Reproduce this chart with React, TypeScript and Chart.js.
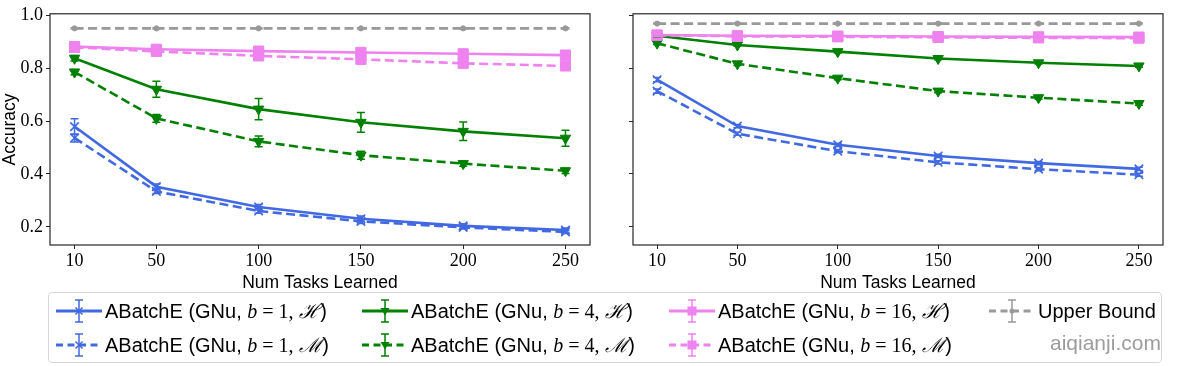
import React, { useEffect, useRef } from "react";
import { Chart, registerables } from "chart.js";
Chart.register(...registerables);

// ---------- data ----------
const xTicks = [10, 50, 100, 150, 200, 250];
const yTicks = [0.2, 0.4, 0.6, 0.8, 1.0];

// left panel
const blueH_L = [0.579, 0.352, 0.275, 0.231, 0.204, 0.188];
const blueH_L_err = [0.03, 0.01, 0.01, 0.01, 0.008, 0.008];
const blueM_L = [0.536, 0.334, 0.26, 0.221, 0.198, 0.181];
const blueM_L_err = [0.015, 0.008, 0.008, 0.008, 0.006, 0.006];
const greenH_L = [0.837, 0.72, 0.645, 0.595, 0.561, 0.535];
const greenH_L_err = [0.01, 0.03, 0.04, 0.037, 0.035, 0.03];
const greenM_L = [0.785, 0.61, 0.523, 0.471, 0.439, 0.412];
const greenM_L_err = [0.01, 0.015, 0.02, 0.015, 0.01, 0.01];
const pinkH_L = [0.881, 0.871, 0.864, 0.859, 0.854, 0.849];
const pinkH_L_err = [0.006, 0.008, 0.01, 0.01, 0.01, 0.008];
const pinkM_L = [0.878, 0.863, 0.846, 0.833, 0.818, 0.808];
const pinkM_L_err = [0.006, 0.008, 0.01, 0.01, 0.01, 0.008];
const upper_L = [0.95, 0.95, 0.95, 0.95, 0.95, 0.95];
const upper_L_err = [0.002, 0.002, 0.002, 0.002, 0.002, 0.002];

// right panel
const blueH_R = [0.756, 0.581, 0.51, 0.468, 0.441, 0.419];
const blueH_R_err = [0.008, 0.006, 0.006, 0.006, 0.006, 0.006];
const blueM_R = [0.713, 0.552, 0.486, 0.444, 0.418, 0.397];
const blueM_R_err = [0.008, 0.006, 0.006, 0.006, 0.006, 0.006];
const greenH_R = [0.922, 0.887, 0.862, 0.836, 0.82, 0.808];
const greenH_R_err = [0.004, 0.005, 0.005, 0.005, 0.005, 0.005];
const greenM_R = [0.894, 0.816, 0.762, 0.713, 0.688, 0.666];
const greenM_R_err = [0.005, 0.006, 0.006, 0.006, 0.006, 0.006];
const pinkH_R = [0.925, 0.922, 0.921, 0.919, 0.918, 0.917];
const pinkH_R_err = [0.004, 0.004, 0.004, 0.004, 0.004, 0.004];
const pinkM_R = [0.924, 0.92, 0.918, 0.916, 0.914, 0.913];
const pinkM_R_err = [0.004, 0.004, 0.004, 0.004, 0.004, 0.004];
const upper_R = [0.968, 0.968, 0.968, 0.968, 0.968, 0.968];
const upper_R_err = [0.002, 0.002, 0.002, 0.002, 0.002, 0.002];

const legendB = ["1", "4", "16"];
const legendSets = ["ℋ", "ℳ"];

// ---------- styles ----------
const BLUE = "#4169E1";
const GREEN = "#008000";
const PINK = "#EE82EE";
const GRAY = "#999999";
const SERIF = "Liberation Serif, DejaVu Serif, serif";
const SANS = "Liberation Sans, DejaVu Sans, sans-serif";

type Marker = "x" | "v" | "s" | "o";
type Series = { color: string; dashed: boolean; marker: Marker; values: number[]; errs: number[] };

const leftSeries: Series[] = [
  { color: BLUE, dashed: false, marker: "x", values: blueH_L, errs: blueH_L_err },
  { color: BLUE, dashed: true, marker: "x", values: blueM_L, errs: blueM_L_err },
  { color: GREEN, dashed: false, marker: "v", values: greenH_L, errs: greenH_L_err },
  { color: GREEN, dashed: true, marker: "v", values: greenM_L, errs: greenM_L_err },
  { color: PINK, dashed: false, marker: "s", values: pinkH_L, errs: pinkH_L_err },
  { color: PINK, dashed: true, marker: "s", values: pinkM_L, errs: pinkM_L_err },
  { color: GRAY, dashed: true, marker: "o", values: upper_L, errs: upper_L_err },
];
const rightSeries: Series[] = [
  { color: BLUE, dashed: false, marker: "x", values: blueH_R, errs: blueH_R_err },
  { color: BLUE, dashed: true, marker: "x", values: blueM_R, errs: blueM_R_err },
  { color: GREEN, dashed: false, marker: "v", values: greenH_R, errs: greenH_R_err },
  { color: GREEN, dashed: true, marker: "v", values: greenM_R, errs: greenM_R_err },
  { color: PINK, dashed: false, marker: "s", values: pinkH_R, errs: pinkH_R_err },
  { color: PINK, dashed: true, marker: "s", values: pinkM_R, errs: pinkM_R_err },
  { color: GRAY, dashed: true, marker: "o", values: upper_R, errs: upper_R_err },
];

function markerProps(m: Marker, color: string) {
  switch (m) {
    case "x":
      return { pointStyle: "crossRot", pointRadius: 6, pointBorderWidth: 1.6, pointBorderColor: color, pointBackgroundColor: color, pointRotation: 0 };
    case "v":
      return { pointStyle: "triangle", pointRadius: 6, pointBorderWidth: 1, pointBorderColor: color, pointBackgroundColor: color, pointRotation: 180 };
    case "s":
      return { pointStyle: "rect", pointRadius: 7.2, pointBorderWidth: 1, pointBorderColor: color, pointBackgroundColor: color, pointRotation: 0 };
    default:
      return { pointStyle: "circle", pointRadius: 2.6, pointBorderWidth: 1, pointBorderColor: color, pointBackgroundColor: color, pointRotation: 0 };
  }
}

const errorBarPlugin = {
  id: "errbars",
  afterDatasetsDraw(chart: any) {
    const ctx = chart.ctx;
    const ys = chart.scales.y;
    const n = chart.data.datasets.length;
    for (let i = 0; i < n; i++) {
      const ds: any = chart.data.datasets[i];
      if (!ds.errs) continue;
      const meta = chart.getDatasetMeta(i);
      ctx.save();
      ctx.strokeStyle = ds.borderColor;
      ctx.lineWidth = 1.5;
      ctx.setLineDash([]);
      meta.data.forEach((pt: any, j: number) => {
        const v = ds.data[j].y;
        const e = ds.errs[j];
        const y1 = ys.getPixelForValue(v - e);
        const y2 = ys.getPixelForValue(v + e);
        const x = pt.x;
        ctx.beginPath();
        ctx.moveTo(x, y1);
        ctx.lineTo(x, y2);
        ctx.moveTo(x - 4, y1);
        ctx.lineTo(x + 4, y1);
        ctx.moveTo(x - 4, y2);
        ctx.lineTo(x + 4, y2);
        ctx.stroke();
      });
      ctx.restore();
    }
  },
};

const framePlugin = {
  id: "frame",
  afterDraw(chart: any) {
    const { left, right, top, bottom } = chart.chartArea;
    const ctx = chart.ctx;
    ctx.save();
    ctx.strokeStyle = "#262626";
    ctx.lineWidth = 1.2;
    ctx.strokeRect(left, top, right - left, bottom - top);
    ctx.restore();
  },
};

function makeConfig(series: Series[], showY: boolean, yWidth: number, padRight: number): any {
  const datasets = series.map((s, i) => ({
    data: xTicks.map((x, j) => ({ x, y: s.values[j] })),
    errs: s.errs,
    borderColor: s.color,
    backgroundColor: s.color,
    borderWidth: 2.6,
    borderDash: s.dashed ? [9, 4.5] : [],
    tension: 0,
    fill: false,
    order: series.length - i,
    ...markerProps(s.marker, s.color),
  }));
  return {
    type: "line",
    data: { datasets },
    plugins: [errorBarPlugin, framePlugin],
    options: {
      animation: false,
      responsive: false,
      layout: { padding: { top: 11, right: padRight, left: 0, bottom: 0 } },
      plugins: { legend: { display: false }, tooltip: { enabled: false } },
      scales: {
        x: {
          type: "linear",
          min: -2,
          max: 262,
          afterBuildTicks: (axis: any) => {
            axis.ticks = xTicks.map((v) => ({ value: v }));
          },
          afterFit: (axis: any) => {
            axis.height = 55;
          },
          ticks: { color: "#000", font: { family: SERIF, size: 18 }, padding: 1, maxRotation: 0, callback: (v: number) => String(v) },
          grid: { display: true, drawOnChartArea: false, drawTicks: true, tickLength: 4, color: "#262626", lineWidth: 1 },
          border: { display: false },
          title: { display: true, text: "Num Tasks Learned", color: "#000", font: { family: SANS, size: 17.5 }, padding: { top: 0, bottom: 6 } },
        },
        y: {
          type: "linear",
          min: 0.1316,
          max: 1.005,
          afterBuildTicks: (axis: any) => {
            axis.ticks = yTicks.map((v) => ({ value: v }));
          },
          afterFit: (axis: any) => {
            axis.width = yWidth;
          },
          ticks: { color: "#000", font: { family: SERIF, size: 18 }, padding: 3, callback: (v: number) => (showY ? v.toFixed(1) : "") },
          grid: { display: true, drawOnChartArea: false, drawTicks: true, tickLength: 4, color: "#262626", lineWidth: 1 },
          border: { display: false },
          title: { display: showY, text: "Accuracy", color: "#000", font: { family: SANS, size: 17.5 }, padding: { top: 0, bottom: 0 } },
        },
      },
    },
  };
}

function Panel({ series, showY, yWidth, padRight, left, width }: { series: Series[]; showY: boolean; yWidth: number; padRight: number; left: number; width: number }) {
  const ref = useRef<HTMLCanvasElement>(null);
  useEffect(() => {
    if (!ref.current) return;
    const chart = new Chart(ref.current, makeConfig(series, showY, yWidth, padRight));
    return () => chart.destroy();
  }, []);
  return <canvas ref={ref} width={width} height={300} style={{ position: "absolute", left, top: 0, width, height: 300 }} />;
}

function Icon({ color, dashed, marker }: { color: string; dashed: boolean; marker: Marker }) {
  const cx = 24;
  const cy = 15;
  let mk: any = null;
  if (marker === "x") {
    mk = <path d={`M${cx - 3.5} ${cy - 3.5} L${cx + 3.5} ${cy + 3.5} M${cx - 3.5} ${cy + 3.5} L${cx + 3.5} ${cy - 3.5}`} stroke={color} strokeWidth={1.5} />;
  } else if (marker === "v") {
    mk = <path d={`M${cx - 4.5} ${cy - 3} L${cx + 4.5} ${cy - 3} L${cx} ${cy + 4.5} Z`} fill={color} />;
  } else if (marker === "s") {
    mk = <rect x={cx - 4.5} y={cy - 4.5} width={9} height={9} fill={color} />;
  } else {
    mk = <circle cx={cx} cy={cy} r={2.5} fill={color} />;
  }
  return (
    <svg width={48} height={30} style={{ position: "absolute", left: 0, top: -15 }}>
      <line x1={1} x2={47} y1={cy} y2={cy} stroke={color} strokeWidth={3} strokeDasharray={dashed ? "7 4.5" : undefined} />
      <path d={`M${cx} ${cy - 11} V${cy + 11} M${cx - 4} ${cy - 11} H${cx + 4} M${cx - 4} ${cy + 11} H${cx + 4}`} stroke={color} strokeWidth={1.5} fill="none" />
      {mk}
    </svg>
  );
}

function LegendLabel({ b, set }: { b: string; set: string }) {
  return (
    <span style={{ fontFamily: SANS, fontSize: 20, whiteSpace: "nowrap" }}>
      ABatchE (GNu, <span style={{ fontFamily: SERIF, fontStyle: "italic" }}>b</span>
      <span style={{ fontFamily: SERIF }}> = {b},</span>{" "}
      <span style={{ fontFamily: SERIF, fontStyle: "italic" }}>{set}</span>)
    </span>
  );
}

const legendColsX = [55, 361, 668, 988];
const legendRowsY = [311, 345];
const legendColors = [BLUE, GREEN, PINK];
const legendMarkers: Marker[] = ["x", "v", "s"];

export default function App() {
  const items: any[] = [];
  legendB.forEach((b, c) => {
    legendSets.forEach((set, r) => {
      items.push(
        <div key={`${c}-${r}`} style={{ position: "absolute", left: legendColsX[c], top: legendRowsY[r], height: 0 }}>
          <Icon color={legendColors[c]} dashed={r === 1} marker={legendMarkers[c]} />
          <div style={{ position: "absolute", left: 50, top: -13, lineHeight: "26px" }}>
            <LegendLabel b={b} set={set} />
          </div>
        </div>
      );
    });
  });
  items.push(
    <div key="ub" style={{ position: "absolute", left: legendColsX[3], top: legendRowsY[0], height: 0 }}>
      <Icon color={GRAY} dashed={true} marker="o" />
      <div style={{ position: "absolute", left: 50, top: -13, lineHeight: "26px", fontFamily: SANS, fontSize: 20, whiteSpace: "nowrap" }}>Upper Bound</div>
    </div>
  );
  return (
    <div style={{ position: "fixed", left: 0, top: 0, width: 1179, height: 366, background: "#fff", overflow: "hidden" }}>
      <Panel series={leftSeries} showY={true} yWidth={50} padRight={10} left={0} width={600} />
      <Panel series={rightSeries} showY={false} yWidth={33} padRight={16} left={600} width={579} />
      <div style={{ position: "absolute", left: 48, top: 292, width: 1114, height: 71, border: "1px solid #d6d6d6", borderRadius: 4, boxSizing: "border-box" }} />
      {items}
      <div style={{ position: "absolute", left: 1050, top: 331, fontFamily: SANS, fontSize: 21, color: "#9c9c9c", whiteSpace: "nowrap" }}>aiqianji.com</div>
    </div>
  );
}
